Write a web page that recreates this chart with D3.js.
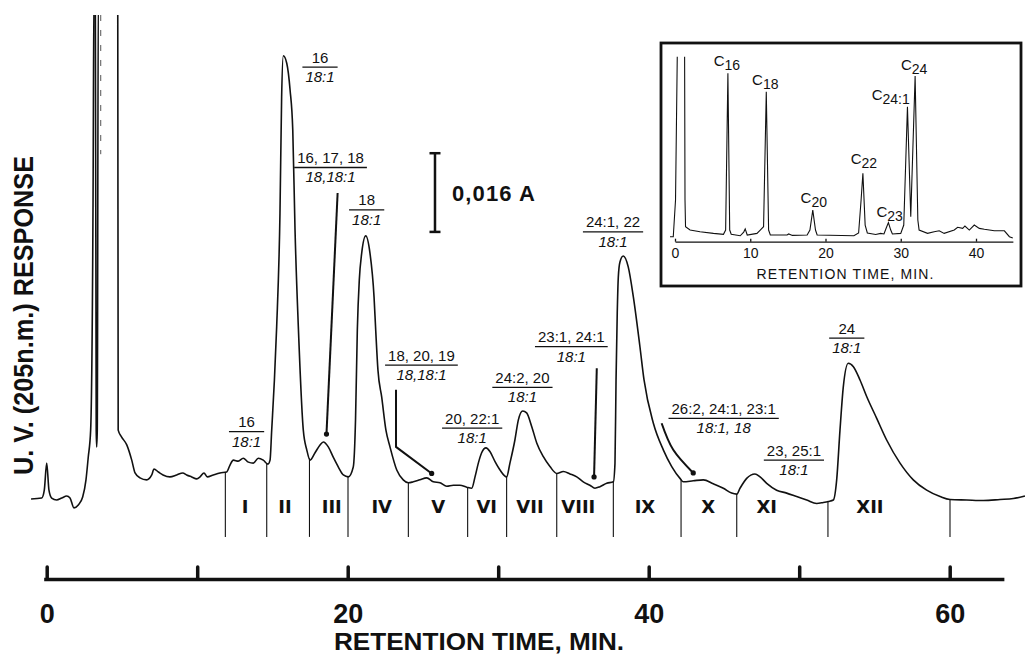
<!DOCTYPE html>
<html>
<head>
<meta charset="utf-8">
<script src="https://cdn.jsdelivr.net/npm/d3@7"></script>
<style>
body { margin: 0; background: #fff; }
text { font-family: "Liberation Sans", Arial, sans-serif; fill: #111; }
</style>
</head>
<body>
<div id="chromatogram"></div>
<script>
// main trace: [retention time (min), response (mA)]
const mainTrace = [
  [-1.04,0.2],[-0.33,0.4],[-0.16,2.0],[0,7.5],[0.15,2.0],[0.33,0.4],[0.66,0],[1.0,0.4],[1.33,0.8],[1.55,0.4],
  [1.81,-1.6],[2.10,-1.0],[2.39,0.6],[2.61,4.1],[2.76,8.7],[2.92,14.2],[3.08,61],[3.14,104],[3.23,104],[3.29,14.2],
  [3.32,10.8],[3.36,14.2],[3.43,104],[4.72,104],[4.75,14.2],[4.98,12.8],[5.32,11.2],[5.65,8.1],[5.87,5.5],[6.20,4.5],
  [6.64,4.1],[6.98,5.1],[7.13,6.3],[7.42,5.7],[7.73,5.1],[8.19,4.7],[8.64,5.1],[9.04,5.5],[9.30,5.1],[9.63,4.7],
  [9.97,4.3],[10.19,4.7],[10.45,5.5],[10.67,4.7],[11.07,5.1],[11.51,5.5],[11.96,5.7],[12.18,7.1],[12.40,8.1],[12.73,7.9],
  [13.06,8.5],[13.40,7.7],[13.73,7.5],[14.06,8.5],[14.39,8.1],[14.70,7.3],[14.84,8.1],[14.95,14.2],[15.13,24.4],[15.28,35.2],
  [15.50,58.3],[15.61,81.9],[15.72,90.3],[15.95,88.8],[16.17,83.4],[16.35,75.2],[16.50,54.9],[16.72,35.2],[17.05,14.2],[17.28,10.2],
  [17.50,8.1],[17.83,9.6],[18.16,11.2],[18.38,11.8],[18.71,10.8],[19.04,8.7],[19.38,6.7],[19.71,5.1],[20.04,4.7],[20.37,6.7],
  [20.52,16.3],[20.64,34.6],[20.77,44.7],[20.93,50.2],[21.20,53.7],[21.48,50.2],[21.75,41.3],[21.86,34.6],[22.01,26.4],[22.26,20.9],
  [22.54,14.2],[22.81,10.8],[23.26,6.1],[23.69,4.1],[24.03,3.5],[24.36,3.7],[24.80,4.1],[25.25,4.5],[25.69,3.7],[26.13,3.5],
  [26.58,2.8],[27.02,3.0],[27.46,3.0],[27.91,2.6],[28.24,2.4],[28.46,4.7],[28.68,7.5],[28.90,9.6],[29.19,10.6],[29.46,9.8],
  [29.79,7.8],[30.12,6.1],[30.56,4.7],[30.78,7.5],[31.11,12.2],[31.34,16.3],[31.63,18.1],[31.89,17.7],[32.23,14.9],[32.56,11.6],
  [33.00,8.8],[33.44,6.8],[33.89,5.4],[34.33,5.8],[34.77,5.3],[35.22,4.7],[35.65,3.7],[36.09,3.0],[36.43,2.4],[36.76,2.7],
  [37.21,3.4],[37.65,3.7],[37.76,7.5],[37.83,24.4],[37.91,38.0],[37.98,45.3],[38.09,48.4],[38.31,49.6],[38.64,47.4],[38.98,41.3],
  [39.42,31.1],[39.69,24.4],[40.31,15.6],[40.97,10.2],[41.53,6.8],[42.08,4.4],[42.30,3.7],[42.96,3.9],[43.63,4.1],[44.29,3.3],
  [44.96,2.4],[45.51,1.4],[45.85,1.2],[46.07,2.4],[46.51,4.4],[47.06,5.3],[47.40,4.7],[47.84,3.4],[48.50,2.0],[49.17,1.4],
  [49.83,0.7],[50.50,0],[51.16,-0.7],[51.60,-0.5],[51.93,-0.3],[52.27,0],[52.49,4.1],[52.71,14.2],[52.93,23.0],[53.26,27.8],
  [53.60,27.1],[54.04,24.4],[54.49,21.0],[55.15,16.6],[55.81,12.2],[56.70,7.5],[57.58,4.1],[58.47,2.0],[59.36,0.7],[60.02,0.1],
  [61.13,0],[62.24,-0.1],[63.34,0.1],[64.23,0.3],[65.00,0.8]
];
// dashed pen return on the solvent front
const penReturn = [[3.59,98.6],[3.59,70.3]];

const xTicks = [0, 10, 20, 30, 40, 50, 60];
const xTickLabels = [0, 20, 40, 60];

// fraction cut times and roman names
const cutTimes = [11.87, 14.62, 17.46, 20.02, 24.03, 27.97, 30.56, 33.89, 37.65, 42.15, 45.85, 51.91, 60.02];
const fractionNames = ["I","II","III","IV","V","VI","VII","VIII","IX","X","XI","XII"];
const fractionNameTimes = [13.18, 15.83, 18.94, 22.26, 26.02, 29.24, 32.11, 35.32, 39.75, 43.96, 47.84, 54.70];

// peak composition labels (numerator / denominator) anchored at the fraction bar
const peakLabels = [
  {num: "16", den: "18:1", t: 13.28, r: 13.9},
  {num: "16", den: "18:1", t: 18.16, r: 88.0},
  {num: "16, 17, 18", den: "18,18:1", t: 18.86, r: 67.6},
  {num: "18", den: "18:1", t: 21.26, r: 59.0},
  {num: "18, 20, 19", den: "18,18:1", t: 24.90, r: 27.4},
  {num: "20, 22:1", den: "18:1", t: 28.27, r: 14.6},
  {num: "24:2, 20", den: "18:1", t: 31.61, r: 22.9},
  {num: "23:1, 24:1", den: "18:1", t: 34.86, r: 31.2},
  {num: "24:1, 22", den: "18:1", t: 37.63, r: 54.5},
  {num: "26:2, 24:1, 23:1", den: "18:1, 18", t: 44.98, r: 16.6},
  {num: "23, 25:1", den: "18:1", t: 49.65, r: 8.1},
  {num: "24", den: "18:1", t: 53.16, r: 32.9}
];
const leaders = [
  [[19.33,62.4],[18.59,13.4]],
  [[23.21,22.4],[23.21,10.8],[25.58,5.4]],
  [[36.55,26.8],[36.37,4.7]],
  [[40.86,15.6],[41.63,10.2],[42.96,5.5]]
];
const scaleBar = {t: 25.80, from: 54.5, to: 70.5, label: "0,016 A"};

// inset: GC of the methyl esters, [time (min), relative response]
const insetTrace = [
  [-0.67,2.7],[-0.23,2.7],[0.07,22.5],[0.33,110],[1.27,110],[1.33,22.5],[1.40,8.1],[2.0,6.3],[3.33,5.4],[5.11,4.5],
  [6.44,4.0],[6.73,6.3],[7.03,91.0],[7.27,6.3],[7.47,4.0],[8.67,3.2],[9.13,5.2],[9.33,6.9],[9.60,3.6],[10.89,4.5],
  [11.33,6.3],[11.77,8.1],[12.13,81.1],[12.44,6.3],[12.67,3.6],[14.89,3.6],[15.11,4.2],[15.6,3.4],[17.56,3.6],[17.93,6.3],
  [18.31,17.1],[18.67,6.3],[18.89,3.6],[23.77,3.2],[24.4,4.7],[24.73,22.5],[24.97,37.0],[25.27,9.0],[25.56,4.7],[26.67,3.9],
  [27.33,4.5],[27.77,4.2],[28.07,7.4],[28.36,10.3],[28.67,6.3],[28.89,4.2],[30.0,4.5],[30.4,9.0],[30.89,73.0],[31.33,13.5],
  [31.91,89.6],[32.27,11.7],[32.44,6.3],[33.56,4.5],[34.44,5.4],[35.11,5.9],[35.77,4.5],[37.11,6.3],[37.56,7.8],[38.23,7.2],
  [38.53,8.5],[39.11,6.3],[39.77,9.0],[40.44,7.2],[41.11,6.7],[42.44,5.9],[43.77,5.9],[44.44,2.7],[44.89,2.0]
];
const insetTicks = [0, 10, 20, 30, 40];
const insetPeaks = [
  {sub: "16", t: 6.89, r: 96.4},
  {sub: "18", t: 12.0, r: 86.5},
  {sub: "20", t: 18.44, r: 22.5},
  {sub: "22", t: 25.11, r: 43.4},
  {sub: "23", t: 28.53, r: 14.9},
  {sub: "24:1", t: 28.67, r: 78.0},
  {sub: "24", t: 31.78, r: 94.6}
];

let width = 1026, height = 654;

let svg = d3.select("#chromatogram").append("svg")
    .attr("width", width)
    .attr("height", height)
    .style("background", "#fff");

let x = d3.scaleLinear().domain([0, 60]).range([46.7, 949.7]);
let y = d3.scaleLinear().domain([0, 100]).range([500, 8.1]);

svg.append("clipPath").attr("id", "plotclip")
    .append("rect").attr("x", 0).attr("y", 15).attr("width", width).attr("height", 560);

// trace
let line = d3.line()
    .x(d => x(d[0]))
    .y(d => y(d[1]))
    .curve(d3.curveMonotoneX);

svg.append("path")
    .datum(mainTrace)
    .attr("clip-path", "url(#plotclip)")
    .attr("fill", "none")
    .attr("stroke", "#111")
    .attr("stroke-width", 1.6)
    .attr("d", line);

svg.append("path")
    .datum(penReturn)
    .attr("clip-path", "url(#plotclip)")
    .attr("fill", "none")
    .attr("stroke", "#555")
    .attr("stroke-width", 1)
    .attr("stroke-dasharray", "6,9")
    .attr("d", d3.line().x(d => x(d[0])).y(d => y(d[1])));

// response of the trace at time t (for the cut marks)
let bisect = d3.bisector(d => d[0]).left;
function traceAt(t) {
    let i = bisect(mainTrace, t);
    let a = mainTrace[i - 1], b = mainTrace[i];
    return a[1] + (b[1] - a[1]) * (t - a[0]) / (b[0] - a[0]);
}

// fraction cuts
svg.selectAll(".cut")
    .data(cutTimes)
    .enter().append("line")
    .attr("class", "cut")
    .attr("x1", d => x(d)).attr("x2", d => x(d))
    .attr("y1", d => y(traceAt(d)))
    .attr("y2", y(-7.5))
    .attr("stroke", "#111")
    .attr("stroke-width", 1.1);

svg.selectAll(".fname")
    .data(fractionNames)
    .enter().append("text")
    .attr("class", "fname")
    .attr("x", (d, i) => x(fractionNameTimes[i]))
    .attr("y", y(-1.4))
    .attr("dy", "0.36em")
    .attr("text-anchor", "middle")
    .style("font-family", "'DejaVu Sans', sans-serif")
    .style("font-weight", "bold")
    .style("font-size", "18px")
    .text(d => d);

// composition labels
let lab = svg.selectAll(".plabel")
    .data(peakLabels)
    .enter().append("g")
    .attr("class", "plabel")
    .attr("transform", d => "translate(" + x(d.t) + "," + y(d.r) + ")");

lab.append("text")
    .attr("class", "num")
    .attr("y", -4.5)
    .attr("text-anchor", "middle")
    .style("font-size", "15px")
    .text(d => d.num);

lab.append("text")
    .attr("class", "den")
    .attr("y", 15)
    .attr("text-anchor", "middle")
    .style("font-size", "15px")
    .style("font-style", "italic")
    .text(d => d.den);

lab.each(function () {
    let g = d3.select(this);
    let w = Math.max(g.select(".num").node().getComputedTextLength(),
                     g.select(".den").node().getComputedTextLength()) + 6;
    g.append("line")
        .attr("x1", -w / 2).attr("x2", w / 2)
        .attr("stroke", "#111")
        .attr("stroke-width", 1.3);
});

// leader lines with dots
let leaderLine = d3.line().x(d => x(d[0])).y(d => y(d[1])).curve(d3.curveCardinal);
svg.selectAll(".leader")
    .data(leaders)
    .enter().append("path")
    .attr("class", "leader")
    .attr("fill", "none")
    .attr("stroke", "#111")
    .attr("stroke-width", 2)
    .attr("d", d => d.length > 2 && d[0][0] === d[1][0]
        ? d3.line().x(p => x(p[0])).y(p => y(p[1]))(d)
        : leaderLine(d));

svg.selectAll(".ldot")
    .data(leaders)
    .enter().append("circle")
    .attr("class", "ldot")
    .attr("cx", d => x(d[d.length - 1][0]))
    .attr("cy", d => y(d[d.length - 1][1]))
    .attr("r", 2.6)
    .attr("fill", "#111");

// absorbance scale bar
let sb = svg.append("g");
sb.append("line")
    .attr("x1", x(scaleBar.t)).attr("x2", x(scaleBar.t))
    .attr("y1", y(scaleBar.from)).attr("y2", y(scaleBar.to))
    .attr("stroke", "#111").attr("stroke-width", 2.5);
sb.selectAll(".serif")
    .data([scaleBar.from, scaleBar.to])
    .enter().append("line")
    .attr("x1", x(scaleBar.t) - 5.5).attr("x2", x(scaleBar.t) + 5.5)
    .attr("y1", d => y(d)).attr("y2", d => y(d))
    .attr("stroke", "#111").attr("stroke-width", 2.5);
sb.append("text")
    .attr("x", x(scaleBar.t) + 17)
    .attr("y", y((scaleBar.from + scaleBar.to) / 2) + 8)
    .style("font-size", "22px")
    .style("font-weight", "bold")
    .attr("textLength", 83)
    .text(scaleBar.label);

// x axis
let xAxisScale = x.copy().domain([-0.2, 63.6]).range([x(-0.2), x(63.6)]);
let xAxis = svg.append("g")
    .attr("transform", "translate(0,579)")
    .call(d3.axisBottom(xAxisScale)
        .tickValues(xTicks)
        .tickSize(-12)
        .tickSizeOuter(0)
        .tickPadding(25)
        .tickFormat(d => xTickLabels.includes(d) ? d : ""));
xAxis.select(".domain").attr("stroke", "#111").attr("stroke-width", 3.5);
xAxis.selectAll(".tick line").attr("stroke", "#111").attr("stroke-width", 3.5).attr("stroke-linecap", "round");
xAxis.selectAll(".tick text")
    .style("font-family", "'Liberation Sans', Arial, sans-serif")
    .style("font-weight", "bold")
    .style("font-size", "27px")
    .attr("fill", "#111");

svg.append("text")
    .attr("x", 479)
    .attr("y", 650)
    .attr("text-anchor", "middle")
    .style("font-size", "24px")
    .style("font-weight", "bold")
    .attr("textLength", 290)
    .attr("lengthAdjust", "spacingAndGlyphs")
    .text("RETENTION TIME, MIN.");

svg.append("text")
    .attr("transform", "translate(33,315.5) rotate(-90)")
    .attr("text-anchor", "middle")
    .style("font-size", "27px")
    .style("font-weight", "bold")
    .attr("textLength", 319)
    .attr("lengthAdjust", "spacingAndGlyphs")
    .text("U. V. (205n.m.) RESPONSE");

// inset
let inset = svg.append("g");
inset.append("rect")
    .attr("x", 661).attr("y", 43)
    .attr("width", 360).attr("height", 243)
    .attr("fill", "#fff")
    .attr("stroke", "#111")
    .attr("stroke-width", 2.8);

let x2 = d3.scaleLinear().domain([0, 40]).range([675, 976]);
let y2 = d3.scaleLinear().domain([0, 100]).range([241.7, 56.7]);

svg.append("clipPath").attr("id", "insetclip")
    .append("rect").attr("x", 662).attr("y", 56.7).attr("width", 358).attr("height", 228);

inset.append("path")
    .datum(insetTrace)
    .attr("clip-path", "url(#insetclip)")
    .attr("fill", "none")
    .attr("stroke", "#111")
    .attr("stroke-width", 1.1)
    .attr("d", d3.line().x(d => x2(d[0])).y(d => y2(d[1])));

let insetAxis = inset.append("g")
    .attr("transform", "translate(0,241.7)")
    .call(d3.axisBottom(x2.copy().domain([0, 44.9]).range([675, x2(44.9)]))
        .tickValues(insetTicks)
        .tickSize(-3)
        .tickSizeOuter(0)
        .tickPadding(6.5));
insetAxis.select(".domain").attr("stroke", "#111").attr("stroke-width", 1.3);
insetAxis.selectAll(".tick line").attr("stroke", "#111").attr("stroke-width", 1.3);
insetAxis.selectAll(".tick text").style("font-size", "14px").attr("fill", "#111");

inset.append("text")
    .attr("x", 845)
    .attr("y", 278.5)
    .attr("text-anchor", "middle")
    .style("font-size", "14px")
    .attr("textLength", 177)
    .text("RETENTION TIME, MIN.");

let ipl = inset.selectAll(".ipeak")
    .data(insetPeaks)
    .enter().append("text")
    .attr("class", "ipeak")
    .attr("x", d => x2(d.t))
    .attr("y", d => y2(d.r) + 3)
    .attr("text-anchor", "middle")
    .style("font-size", "15px");
ipl.append("tspan").text("C");
ipl.append("tspan").attr("dy", 4).style("font-size", "14px").text(d => d.sub);
</script>
</body>
</html>
